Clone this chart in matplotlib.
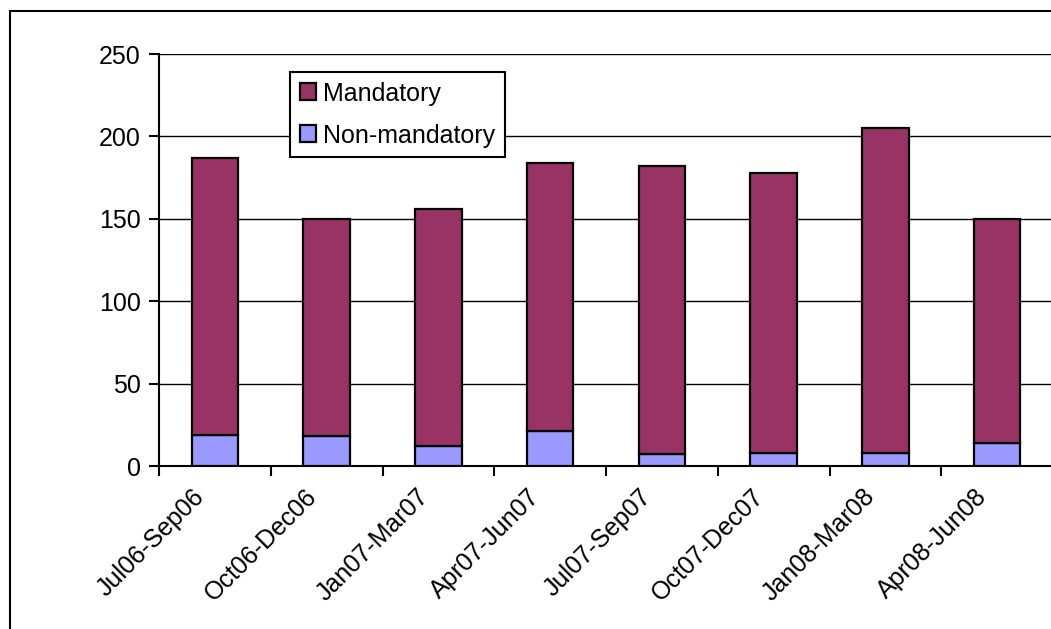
import matplotlib
matplotlib.use("Agg")
import matplotlib.pyplot as plt
from matplotlib.patches import Rectangle
import numpy as np

categories = ["Jul06-Sep06", "Oct06-Dec06", "Jan07-Mar07", "Apr07-Jun07",
              "Jul07-Sep07", "Oct07-Dec07", "Jan08-Mar08", "Apr08-Jun08"]
non_mandatory = [19, 18, 12, 21, 7, 8, 8, 14]
mandatory = [168, 132, 144, 163, 175, 170, 197, 136]

plt.rcParams['font.family'] = ['Liberation Sans', 'DejaVu Sans']

fig = plt.figure(figsize=(10.51, 6.29), dpi=100)
ax = fig.add_axes([159/1051, (629-466)/629, 894/1051, 412/629])

# outer chart-area border
fig.patches.append(Rectangle((10/1051, -0.1), 1.2, (629-11)/629 + 0.1,
                             transform=fig.transFigure, fill=False,
                             edgecolor='black', linewidth=1.5, zorder=0))

x = np.arange(len(categories))
w = 0.415
b1 = ax.bar(x, non_mandatory, w, color='#9999FF', edgecolor='black',
            linewidth=1.6, label='Non-mandatory', zorder=3)
b2 = ax.bar(x, mandatory, w, bottom=non_mandatory, color='#993366',
            edgecolor='black', linewidth=1.6, label='Mandatory', zorder=3)

ax.set_xlim(-0.5, len(categories) - 0.5)
ax.set_ylim(0, 250)
ax.set_yticks(range(0, 251, 50))
ax.yaxis.grid(True, color='black', linewidth=1)
ax.set_axisbelow(True)

for s in ['top', 'right']:
    ax.spines[s].set_visible(False)
ax.spines['left'].set_linewidth(1.5)
ax.spines['bottom'].set_linewidth(1.5)

ax.set_xticks(np.arange(len(categories) + 1) - 0.5)
ax.set_xticklabels([])
ax.tick_params(axis='x', length=7, width=1.5, direction='out')
ax.tick_params(axis='y', length=7, width=1.5, direction='out', labelsize=18, pad=6)

for i, c in enumerate(categories):
    ax.text(i - 0.2, -11, c, rotation=45, ha='right', va='top',
            rotation_mode='anchor', fontsize=18)

leg = ax.legend([b2, b1], ['Mandatory', 'Non-mandatory'], loc='upper left',
                bbox_to_anchor=((290-159)/894, (466-72)/412), borderaxespad=0,
                fontsize=18, frameon=True, fancybox=False, framealpha=1,
                edgecolor='black', handlelength=0.65, handleheight=0.65,
                handletextpad=0.3, borderpad=0.38, labelspacing=0.72)
leg.get_frame().set_linewidth(1.5)
leg.set_zorder(5)

fig.savefig("out.png", dpi=100)
